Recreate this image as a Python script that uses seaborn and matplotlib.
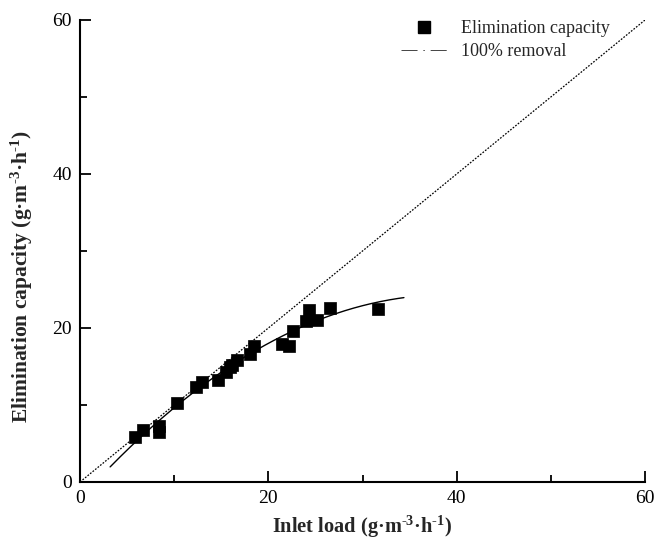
import numpy as np
import pandas as pd
import matplotlib
matplotlib.use("Agg")
import matplotlib.pyplot as plt
from matplotlib.lines import Line2D
from matplotlib.ticker import MultipleLocator
import seaborn as sns

# Inlet load vs. elimination capacity measurements (g·m-3·h-1)
inlet_load = [5.8, 6.7, 8.4, 8.4, 10.3, 12.3, 13.0, 14.7, 15.5, 15.9, 16.1, 16.7,
              18.0, 18.5, 21.4, 22.2, 22.6, 24.0, 24.3, 25.2, 26.6, 31.6]
elim_capacity = [5.9, 6.7, 7.3, 6.5, 10.3, 12.4, 13.0, 13.3, 14.3, 14.9, 15.2, 15.8,
                 16.6, 17.6, 17.9, 17.7, 19.6, 20.9, 22.3, 21.0, 22.6, 22.5]

# Range over which the quadratic fit is drawn, and the 100 % removal reference
fit_range = [3.2, 34.4]
removal_x = [0, 60]

sns.set_theme(style="ticks")
plt.rcParams["font.family"] = ["Liberation Serif", "DejaVu Serif"]
plt.rcParams["mathtext.fontset"] = "custom"
plt.rcParams["mathtext.rm"] = "Liberation Serif:bold"
plt.rcParams["mathtext.it"] = "Liberation Serif:bold"
plt.rcParams["mathtext.bf"] = "Liberation Serif:bold"

fig = plt.figure(figsize=(6.57, 5.40), dpi=100)
ax = fig.add_axes([80 / 657, 1 - 482 / 540, 565 / 657, 462 / 540])

df = pd.DataFrame({"load": inlet_load, "ec": elim_capacity})

# 100 % removal line (EC = inlet load)
ref = pd.DataFrame({"x": removal_x, "y": removal_x})
sns.lineplot(data=ref, x="x", y="y", ax=ax, color="black", lw=0.9,
             linestyle=(0, (1.4, 1.2)), legend=False)

# Second-order polynomial fit of the measurements
coef = np.polyfit(df["load"], df["ec"], 2)
xf = np.linspace(fit_range[0], fit_range[1], 200)
fit = pd.DataFrame({"x": xf, "y": np.polyval(coef, xf)})
sns.lineplot(data=fit, x="x", y="y", ax=ax, color="black", lw=1.0, legend=False)

sns.scatterplot(data=df, x="load", y="ec", ax=ax, marker="s", s=80,
                color="black", edgecolor="black", linewidth=0.5, legend=False,
                zorder=3)

ax.set_xlim(0, 60)
ax.set_ylim(0, 60)
ax.xaxis.set_major_locator(MultipleLocator(20))
ax.xaxis.set_minor_locator(MultipleLocator(10))
ax.yaxis.set_major_locator(MultipleLocator(20))
ax.yaxis.set_minor_locator(MultipleLocator(10))
ax.tick_params(which="major", direction="in", length=8, width=1.3,
               labelsize=14, color="black", labelcolor="black", pad=6)
ax.tick_params(which="minor", direction="in", length=5, width=1.3, color="black")
for side in ("top", "right"):
    ax.spines[side].set_visible(False)
for side in ("left", "bottom"):
    ax.spines[side].set_linewidth(1.5)
    ax.spines[side].set_color("black")

hy = "\u2010"
ax.set_xlabel("Inlet load (g·m$^{" + hy + "3}$·h$^{" + hy + "1}$)", fontsize=14.7,
              fontweight="bold")
ax.set_ylabel("Elimination capacity (g·m$^{" + hy + "3}$·h$^{" + hy + "1}$)",
              fontsize=15.5, fontweight="bold")
ax.xaxis.set_label_coords(0.5, -0.068)
ax.yaxis.set_label_coords(-0.08, 0.444)

handles = [
    Line2D([], [], marker="s", color="black", linestyle="none", markersize=8),
    Line2D([], [], color="#444444", lw=0.7, linestyle=(0, (16.5, 6, 1.5, 6))),
]
ax.legend(handles, ["Elimination capacity", "100% removal"], frameon=False,
          loc="upper left", bbox_to_anchor=(0.54, 1.035), fontsize=13,
          handlelength=2.55, handletextpad=0.75, labelspacing=0.35)

fig.savefig("out.png", dpi=100)
